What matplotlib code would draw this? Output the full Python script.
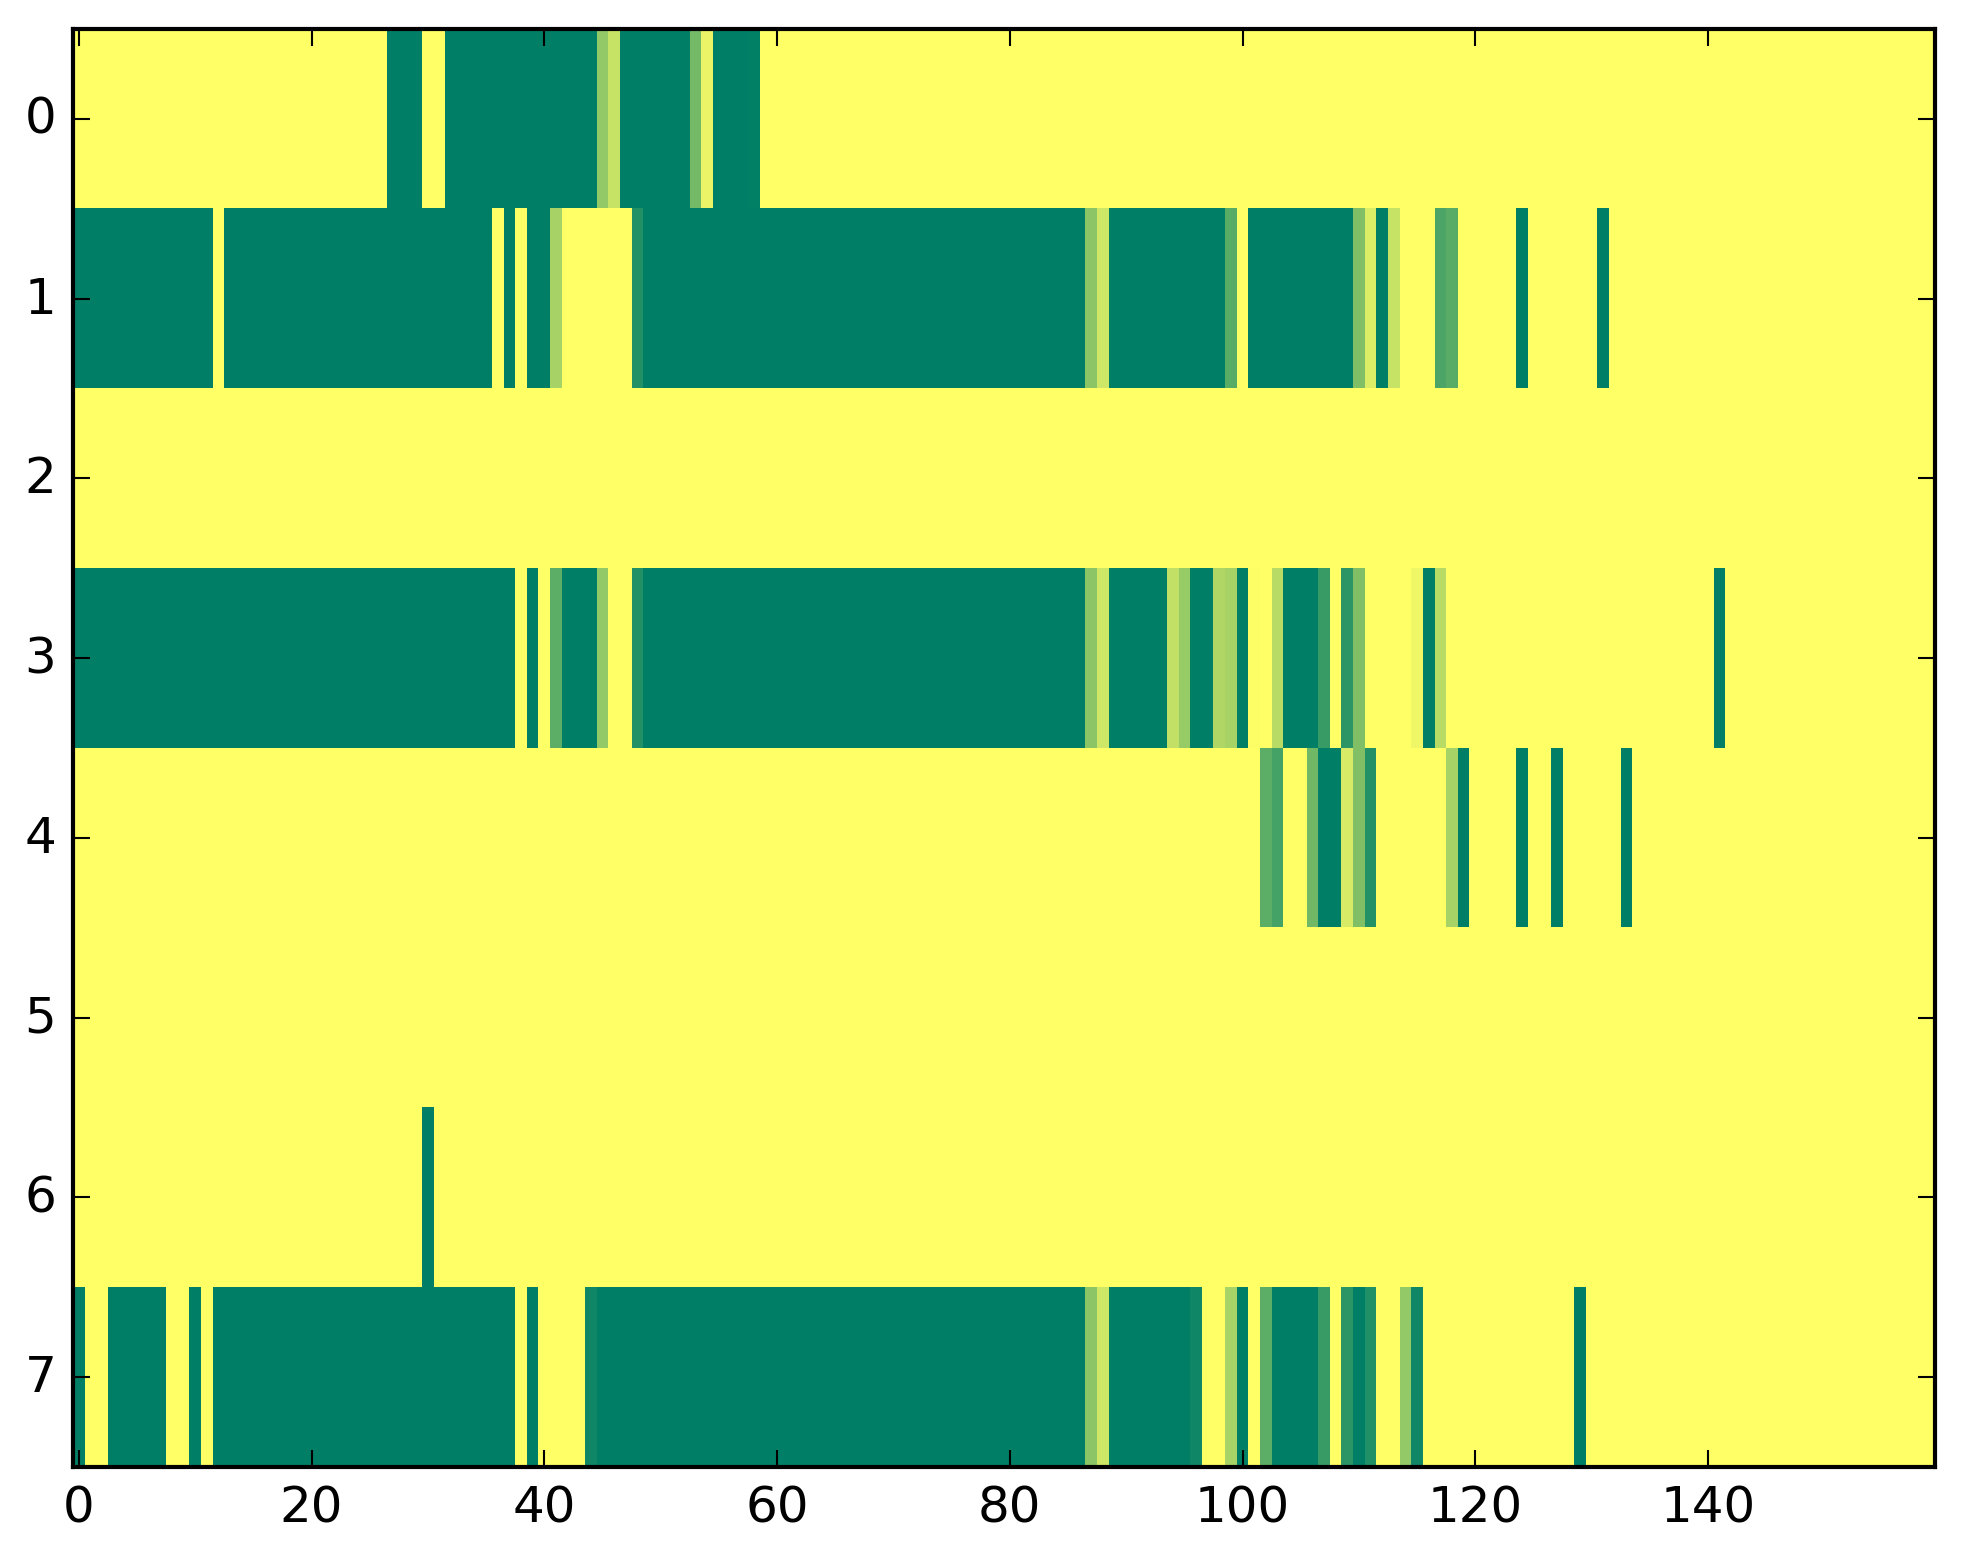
import numpy as np
import matplotlib
matplotlib.use("Agg")
import matplotlib.pyplot as plt

plt.style.use("classic")

# each row as (value, run length) pairs, 160 columns per row
G, Y = 0.0, 1.0
row0 = [(Y, 27), (G, 3), (Y, 2), (G, 13), (0.58, 1), (0.78, 1), (G, 6), (0.45, 1),
        (0.92, 1), (G, 3), (0.01, 1), (Y, 101)]
row1 = [(G, 12), (Y, 1), (G, 23), (Y, 1), (G, 1), (Y, 1), (G, 2), (0.65, 1), (Y, 6),
        (0.14, 1), (G, 38), (0.55, 1), (0.81, 1), (G, 10), (0.35, 1), (Y, 1), (G, 9),
        (0.5, 1), (0.86, 1), (G, 1), (0.78, 1), (Y, 3), (0.3, 1), (0.35, 1), (Y, 5),
        (G, 1), (Y, 6), (G, 1), (Y, 28)]
row2 = [(Y, 160)]
row3 = [(G, 38), (Y, 1), (G, 1), (Y, 1), (0.36, 1), (G, 3), (0.58, 1), (Y, 2),
        (0.14, 1), (G, 38), (0.55, 1), (0.81, 1), (G, 5), (0.76, 1), (0.59, 1), (G, 2),
        (0.69, 1), (0.65, 1), (G, 1), (0.99, 1), (Y, 1), (0.72, 1), (G, 3), (0.22, 1),
        (Y, 1), (0.17, 1), (0.5, 1), (Y, 4), (0.94, 1), (G, 1), (0.72, 1), (Y, 23),
        (G, 1), (Y, 18)]
row4 = [(Y, 102), (0.36, 1), (0.27, 1), (Y, 2), (0.44, 1), (G, 2), (0.84, 1), (0.5, 1),
        (0.14, 1), (Y, 6), (0.65, 1), (G, 1), (Y, 4), (G, 1), (Y, 2), (G, 1), (Y, 5),
        (G, 1), (Y, 26)]
row5 = [(Y, 160)]
row6 = [(Y, 30), (G, 1), (Y, 129)]
row7 = [(G, 1), (Y, 2), (G, 5), (Y, 2), (G, 1), (Y, 1), (G, 26), (Y, 1), (G, 1), (Y, 4),
        (0.06, 1), (G, 42), (0.55, 1), (0.81, 1), (G, 7), (0.06, 1), (Y, 2), (0.66, 1),
        (G, 1), (Y, 1), (0.36, 1), (G, 4), (0.22, 1), (Y, 1), (0.17, 1), (G, 1), (0.13, 1),
        (Y, 2), (0.58, 1), (0.06, 1), (Y, 13), (G, 1), (Y, 30)]

rows = [row0, row1, row2, row3, row4, row5, row6, row7]
x_ticks = [0, 20, 40, 60, 80, 100, 120, 140]
y_ticks = [0, 1, 2, 3, 4, 5, 6, 7]


def expand(runs):
    out = []
    for v, n in runs:
        out += [v] * n
    return out


data = np.array([expand(r) for r in rows])

fig = plt.figure(figsize=(1963 / 300, 1564 / 300), dpi=300, facecolor="white")
ax = fig.add_axes([73 / 1963, 96 / 1564, 1862 / 1963, 1438 / 1564])
ax.imshow(data, cmap="summer", vmin=0, vmax=1, aspect="auto", interpolation="nearest")

ax.set_xticks(x_ticks)
ax.set_yticks(y_ticks)
ax.set_xlim(-0.5, data.shape[1] - 0.5)
ax.set_ylim(data.shape[0] - 0.5, -0.5)

fig.savefig("out.png", dpi=300, facecolor="white")
